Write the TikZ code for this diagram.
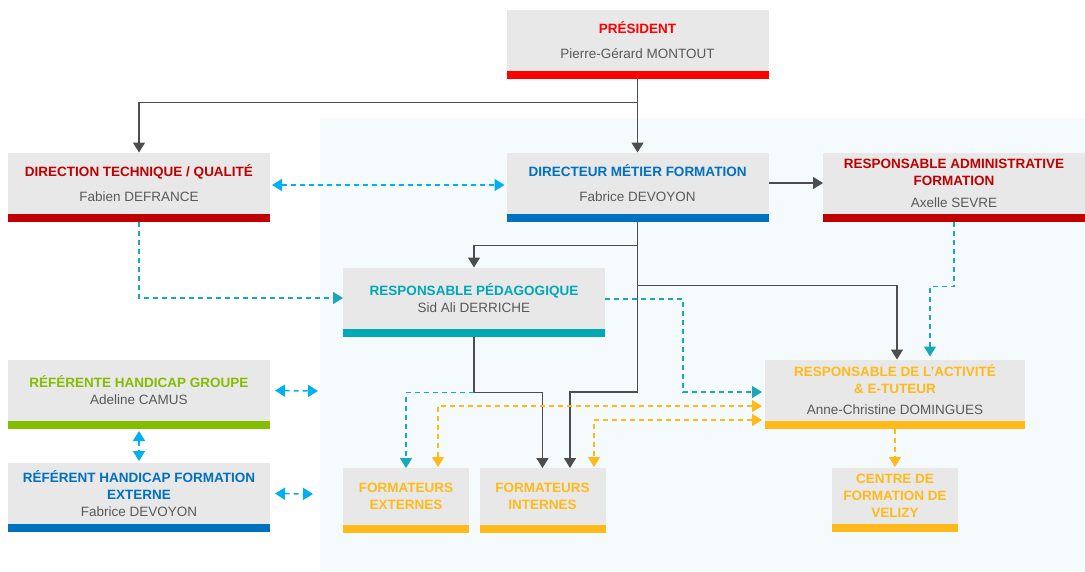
\documentclass[tikz,border=0pt]{standalone}
\usepackage{fontspec}
\setmainfont{Liberation Sans}
\usetikzlibrary{arrows.meta}

\definecolor{presred}{HTML}{FF0000}
\definecolor{darkred}{HTML}{C00000}
\definecolor{ablue}{HTML}{0070C0}
\definecolor{ateal}{HTML}{00A7B5}
\definecolor{aorange}{HTML}{FFBA1A}
\definecolor{agreen}{HTML}{84BD00}
\definecolor{boxgray}{HTML}{E8E8E8}
\definecolor{namegray}{HTML}{595959}
\definecolor{linegray}{HTML}{4D4D4D}
\definecolor{bgblue}{HTML}{F5FAFD}
\definecolor{cyandash}{HTML}{00B0F0}
\definecolor{tealdash}{HTML}{1AA8B8}

\newcommand{\orgfont}{\fontsize{13.5}{17}\selectfont}
\newcommand{\boxtitle}[2]{\textcolor{#1}{\bfseries #2}}

\tikzset{
	orgbox/.style={fill=boxgray, minimum width=262pt, minimum height=61pt, inner sep=2pt, outer sep=0pt,
		align=center, text=namegray, font=\orgfont,
		append after command={\pgfextra{\fill[#1] (\tikzlastnode.south west) rectangle ([yshift=-8pt]\tikzlastnode.south east);}}},
	smallbox/.style={orgbox=#1, minimum width=126pt, minimum height=57pt},
	conn/.style={draw=linegray, line width=1.4pt, -{Triangle[length=10pt,width=12pt]}},
	dashconn/.style={draw=#1, line width=1.5pt, dash pattern=on 5pt off 4pt, -{Triangle[length=10pt,width=12pt]}},
	twoway/.style={dashconn=#1, {Triangle[length=10pt,width=12pt]}-{Triangle[length=10pt,width=12pt]}}
}

\begin{document}
\begin{tikzpicture}[x=1pt,y=-1pt]

\fill[white] (0,0) rectangle (1085,571);
\useasboundingbox (0,0) rectangle (1085,571);
\fill[bgblue] (320,118) rectangle (1085,571);

\node[orgbox=presred] (pres) at (637.5,40) {\boxtitle{presred}{PRÉSIDENT}\\[8pt] Pierre-Gérard MONTOUT};
\node[orgbox=darkred] (dt) at (139,183) {\boxtitle{darkred}{DIRECTION TECHNIQUE / QUALITÉ}\\[8pt] Fabien DEFRANCE};
\node[orgbox=ablue] (dmf) at (637.5,183) {\boxtitle{ablue}{DIRECTEUR MÉTIER FORMATION}\\[8pt] Fabrice DEVOYON};
\node[orgbox=darkred] (raf) at (954,183) {\boxtitle{darkred}{RESPONSABLE ADMINISTRATIVE}\\ \boxtitle{darkred}{FORMATION}\\[5pt] Axelle SEVRE};

\node[orgbox=ateal] (rp) at (474,298) {\boxtitle{ateal}{RESPONSABLE PÉDAGOGIQUE}\\ Sid Ali DERRICHE};
\node[orgbox=aorange, minimum width=260pt] (rae) at (895,390) {\boxtitle{aorange}{RESPONSABLE DE L’ACTIVITÉ}\\ \boxtitle{aorange}{\& E-TUTEUR}\\[4pt] Anne-Christine DOMINGUES};

\node[orgbox=agreen] (rhg) at (139,390.5) {\boxtitle{agreen}{RÉFÉRENTE HANDICAP GROUPE}\\ Adeline CAMUS};
\node[orgbox=ablue] (rhfe) at (139,493.5) {\boxtitle{ablue}{RÉFÉRENT HANDICAP FORMATION}\\ \boxtitle{ablue}{EXTERNE}\\ Fabrice DEVOYON};

\node[smallbox=aorange] (fe) at (406,496.5) {\boxtitle{aorange}{FORMATEURS}\\ \boxtitle{aorange}{EXTERNES}};
\node[smallbox=aorange] (fi) at (542.5,496.5) {\boxtitle{aorange}{FORMATEURS}\\ \boxtitle{aorange}{INTERNES}};
\node[smallbox=aorange, minimum height=56pt] (cf) at (895,496) {\boxtitle{aorange}{CENTRE DE}\\ \boxtitle{aorange}{FORMATION DE}\\ \boxtitle{aorange}{VELIZY}};

\coordinate (rhgend) at (318,391);
\coordinate (rhfeend) at (313,494);

\draw[conn] ([yshift=-8pt]pres.south) -- ++(0,24) -| (dt.north);
\draw[conn] ([yshift=-8pt]pres.south) -- (dmf.north);
\draw[conn] (dmf.east) -- (raf.west);
\draw[conn] ([yshift=-8pt]dmf.south) -- ++(0,24) -| (rp.north);
\draw[conn] ([yshift=-8pt]dmf.south) -- ++(0,64) -| ([xshift=2pt]rae.north);
\draw[conn] ([yshift=-8pt]dmf.south) -- ++(0,170.5) -| ([xshift=27.5pt]fi.north);
\draw[conn] ([yshift=-8pt]rp.south) -- ++(0,56) -| (fi.north);

\draw[twoway=cyandash, shorten <=2pt, shorten >=2pt] ([yshift=-2pt]dt.east) -- ([yshift=-2pt]dmf.west);
\draw[dashconn=tealdash] ([yshift=-8pt]dt.south) |- (rp.west);
\draw[dashconn=tealdash] ([yshift=-64pt]rp.south) -| (fe.north);
\draw[dashconn=tealdash, shorten >=3pt] ([yshift=-1pt]rp.east) -- ++(78,0) |- ([yshift=-2pt]rae.west);
\draw[dashconn=tealdash, shorten >=3pt] ([yshift=-8pt]raf.south) -- ++(0,65) -| ([xshift=35pt]rae.north);

\draw[twoway=aorange, shorten <=3pt, shorten >=1pt] ([yshift=-16pt]rae.west) -| ([xshift=32pt]fe.north);
\draw[twoway=aorange, shorten <=3pt, shorten >=1pt] ([yshift=-30pt]rae.west) -| ([xshift=51.5pt]fi.north);
\draw[dashconn=aorange, shorten >=1pt] ([yshift=-8pt]rae.south) -- (cf.north);

\draw[twoway=cyandash, shorten <=2pt, shorten >=2pt] ([yshift=-8pt]rhg.south) -- (rhfe.north);
\draw[twoway=cyandash, shorten <=5pt] (rhg.east) -- (rhgend);
\draw[twoway=cyandash, shorten <=5pt] (rhfe.east) -- (rhfeend);
\end{tikzpicture}
\end{document}
